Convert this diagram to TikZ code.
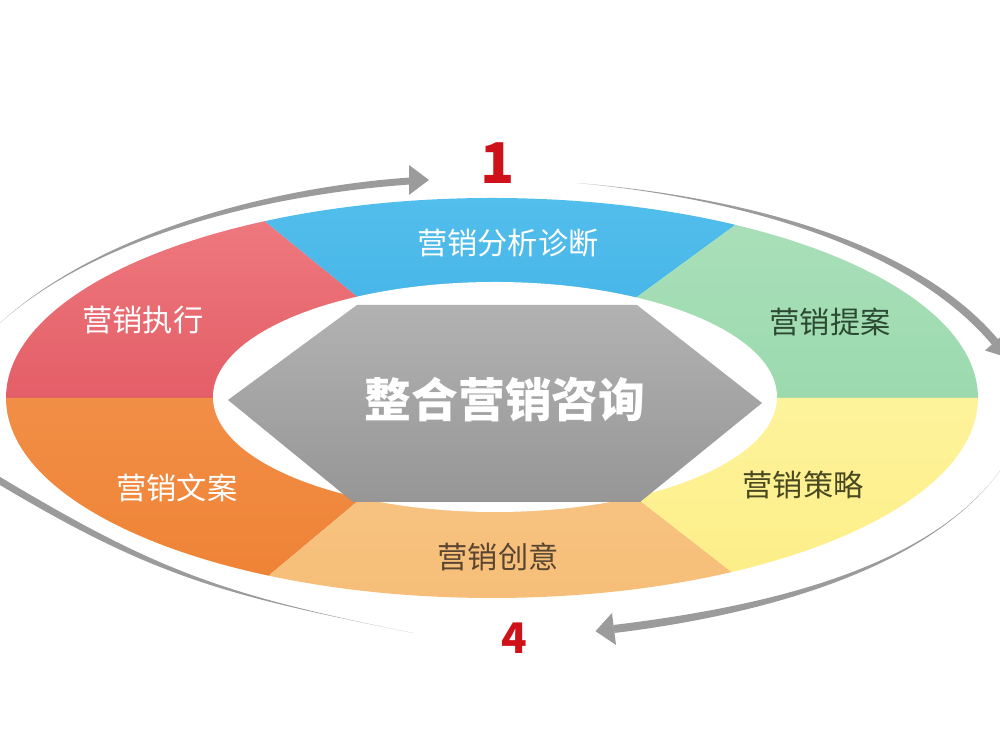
\documentclass[tikz,border=0pt]{standalone}
\usepackage{fontspec}
\usepackage{tikz}
\usepackage{xcolor}
\newfontfamily\cjk{Noto Sans CJK SC}
\definecolor{segredA}{HTML}{EF7C80}
\definecolor{segredB}{HTML}{D9404F}
\definecolor{segblueA}{HTML}{52BEEC}
\definecolor{segblueB}{HTML}{2A9FDC}
\definecolor{seggreenA}{HTML}{ABE0BA}
\definecolor{seggreenB}{HTML}{8CD4A2}
\definecolor{segorangeA}{HTML}{F59A58}
\definecolor{segorangeB}{HTML}{EE8234}
\definecolor{segpeachA}{HTML}{FAD09A}
\definecolor{segpeachB}{HTML}{F6BE78}
\definecolor{segyellowA}{HTML}{FFF8B0}
\definecolor{segyellowB}{HTML}{FCEE86}
\definecolor{hexgrayA}{HTML}{B2B2B2}
\definecolor{hexgrayB}{HTML}{969696}
\definecolor{arrowgray}{HTML}{9B9B9B}
\definecolor{numred}{HTML}{CF1219}
\definecolor{darkgreen}{HTML}{2C4A33}
\definecolor{darkolive}{HTML}{4A4820}
\definecolor{darkbrown}{HTML}{5A4530}
\tikzset{
  seglabel/.style={font=\cjk\fontsize{8.6}{10}\selectfont, inner sep=0pt},
  lightlabel/.style={seglabel, text=white},
  corelabel/.style={font=\cjk\bfseries\fontsize{13.3}{15}\selectfont, text=white, inner sep=0pt},
  stepnum/.style={font=\cjk\bfseries, text=numred, inner sep=0pt},
  cyclearrow/.style={fill=arrowgray}
}

\begin{document}
\begin{tikzpicture}[x=0.1mm, y=0.1mm]
  \useasboundingbox (0,0) rectangle (1000,750);
  % ring
  \begin{scope}\clip (9,737) -- (482,352) -- (-50,352) -- (-50,737) -- cycle;
    \shade[top color=segredA, bottom color=segredB] (492,352) ellipse[x radius=486, y radius=200];\end{scope}
  \begin{scope}\clip (9,737) -- (482,352) -- (499,352) -- (1003,721) -- cycle;
    \shade[top color=segblueA, bottom color=segblueB] (492,352) ellipse[x radius=486, y radius=200];\end{scope}
  \begin{scope}\clip (1003,721) -- (499,352) -- (1050,352) -- (1050,721) -- cycle;
    \shade[top color=seggreenA, bottom color=seggreenB] (492,352) ellipse[x radius=486, y radius=200];\end{scope}
  \begin{scope}\clip (9,-43) -- (481,352) -- (-50,352) -- (-50,-43) -- cycle;
    \shade[top color=segorangeA, bottom color=segorangeB] (492,352) ellipse[x radius=486, y radius=200];\end{scope}
  \begin{scope}\clip (9,-43) -- (481,352) -- (508,352) -- (1003,-33) -- cycle;
    \shade[top color=segpeachA, bottom color=segpeachB] (492,352) ellipse[x radius=486, y radius=200];\end{scope}
  \begin{scope}\clip (1003,-33) -- (508,352) -- (1050,352) -- (1050,-33) -- cycle;
    \shade[top color=segyellowA, bottom color=segyellowB] (492,352) ellipse[x radius=486, y radius=200];\end{scope}
  \fill[white] (495,353) ellipse[x radius=282, y radius=115];
  % centre
  \shade[top color=hexgrayA, bottom color=hexgrayB] (228,350) -- (357,445) -- (637,445) -- (762,347) -- (640,248) -- (353,248) -- cycle;
  \node[corelabel] (core) at (505,350) {整合营销咨询};
  \node[lightlabel] (analyse) at (508,507) {营销分析诊断};
  \node[seglabel, text=darkgreen] (propose) at (830,428) {营销提案};
  \node[seglabel, text=darkolive] (strategy) at (803,265) {营销策略};
  \node[seglabel, text=darkbrown] (idea) at (498,193) {营销创意};
  \node[lightlabel] (copy) at (177,262) {营销文案};
  \node[lightlabel] (execute) at (143,430) {营销执行};
  \node[stepnum, font=\cjk\bfseries\fontsize{16}{18}\selectfont] (num1) at (498,587) {1};
  \node[stepnum, font=\cjk\bfseries\fontsize{12}{14}\selectfont] (num4) at (514,112) {4};
  % cycle arrows
  \fill[cyclearrow] (0,427) .. controls (101,519) and (274,563) .. (410,572.5) -- (410,565.5) .. controls (274,556) and (101,517) .. (0,427);
  \fill[cyclearrow] (409,585) -- (429,570) -- (409,555) -- cycle;
  \fill[cyclearrow] (577,567) .. controls (716.5,555.5) and (908.1,517.6) .. (998.1,410.6) -- (991.9,405.4) .. controls (901.9,512.4) and (716.5,554) .. (577,567);
  \fill[cyclearrow] (1005,417) -- (1009,392) -- (985,399.5) -- cycle;
  \fill[cyclearrow] (1004,285) .. controls (930,175.6) and (745.5,133) .. (614.5,117) -- (613.5,125) .. controls (744.5,141) and (930,175.6) .. (1004,285);
  \fill[cyclearrow] (616,105) -- (595.5,118.8) -- (612,137) -- cycle;
  \fill[cyclearrow] (413,117) .. controls (225.8,155) and (156.9,170.6) .. (-6.8,269) -- (-3.2,275) .. controls (160.5,176.6) and (225.8,155) .. (413,117);
\end{tikzpicture}
\end{document}
